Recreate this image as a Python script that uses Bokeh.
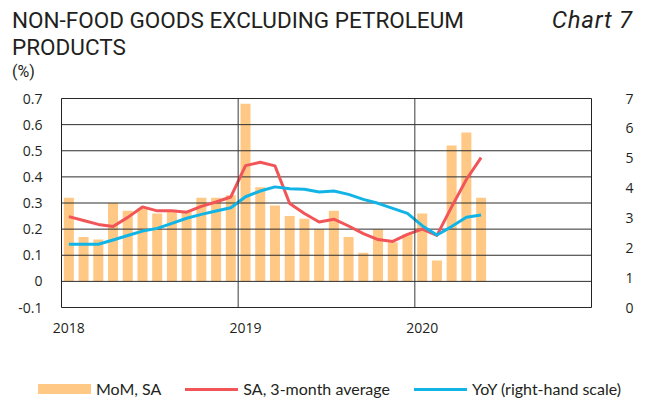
from bokeh.plotting import figure
from bokeh.layouts import column
from bokeh.models import Range1d, LinearAxis, FixedTicker, Span, Div
from bokeh.embed import file_html
from bokeh.resources import INLINE

# ---------------- data ----------------
months = ["2018-01", "2018-02", "2018-03", "2018-04", "2018-05", "2018-06",
          "2018-07", "2018-08", "2018-09", "2018-10", "2018-11", "2018-12",
          "2019-01", "2019-02", "2019-03", "2019-04", "2019-05", "2019-06",
          "2019-07", "2019-08", "2019-09", "2019-10", "2019-11", "2019-12",
          "2020-01", "2020-02", "2020-03", "2020-04", "2020-05"]
mom = [0.32, 0.17, 0.16, 0.30, 0.27, 0.28, 0.26, 0.27, 0.27, 0.32, 0.32, 0.33,
       0.68, 0.36, 0.29, 0.25, 0.24, 0.20, 0.27, 0.17, 0.11, 0.20, 0.15, 0.18,
       0.26, 0.08, 0.52, 0.57, 0.32]
sa3m = [0.248, 0.233, 0.218, 0.210, 0.245, 0.285, 0.270, 0.270, 0.265, 0.287, 0.304, 0.323,
        0.443, 0.456, 0.442, 0.298, 0.260, 0.227, 0.238, 0.212, 0.183, 0.160, 0.153, 0.180,
        0.200, 0.176, 0.285, 0.390, 0.474]
yoy = [2.12, 2.12, 2.12, 2.26, 2.41, 2.56, 2.65, 2.82, 2.99, 3.12, 3.23, 3.34,
       3.71, 3.90, 4.04, 3.98, 3.96, 3.87, 3.90, 3.79, 3.62, 3.49, 3.32, 3.15,
       2.74, 2.43, 2.71, 3.02, 3.10]
year_labels = ["2018", "2019", "2020"]
left_ticks = [-0.1, 0, 0.1, 0.2, 0.3, 0.4, 0.5, 0.6, 0.7]
left_labels = ["-0.1", "0", "0.1", "0.2", "0.3", "0.4", "0.5", "0.6", "0.7"]
right_ticks = [0, 1, 2, 3, 4, 5, 6, 7]
series_names = ["MoM, SA", "SA, 3-month average", "YoY (right-hand scale)"]
title_lines = ["NON-FOOD GOODS EXCLUDING PETROLEUM", "PRODUCTS"]
chart_no = "Chart 7"
unit_label = "(%)"

# ---------------- style ----------------
BAR = "#FFC985"
RED = "#F25558"
BLUE = "#12B4E6"
TXT = "#231F20"
GRID = "#2E2E2E"
TICK_FONT = "Open Sans"
W = 646
HEAD_H, MAIN_H, FOOT_H = 88, 285, 30

x = [i + 0.5 for i in range(len(months))]
year_pos = [months.index(y + "-01") + 0.5 for y in year_labels]
year_bounds = [months.index(y + "-01") for y in year_labels[1:]]

# ---------------- header (title texts) ----------------
def span(text, left=None, right=None, top=0, size=22.5, style="normal", extra=""):
    side = f"left:{left}px;" if left is not None else f"right:{right}px;"
    return (f'<div style="position:absolute;{side}top:{top}px;font-size:{size}px;'
            f'line-height:1;white-space:nowrap;font-style:{style};{extra}">{text}</div>')

head_html = (f'<div style="position:relative;width:{W}px;height:{HEAD_H}px;'
             f'font-family:Roboto;color:{TXT};">'
             + span(title_lines[0], left=12, top=9)
             + span(title_lines[1], left=12, top=36)
             + span(chart_no, right=13, top=8, size=24, style="italic",
                    extra="letter-spacing:0.8px;")
             + span(unit_label, left=12, top=63.5, size=16)
             + '</div>')
head = Div(text=head_html, width=W, height=HEAD_H, margin=(0, 0, 0, 0))

# ---------------- main chart ----------------
p = figure(frame_width=530, frame_height=209, output_backend="svg",
           toolbar_location=None, title=None,
           x_range=Range1d(0, 36), y_range=Range1d(-0.1, 0.7),
           min_border_left=61, min_border_right=55,
           min_border_top=10, min_border_bottom=MAIN_H - 10 - 209)
p.extra_y_ranges = {"yoy": Range1d(0, 7)}
p.outline_line_color = "#222222"
p.outline_line_width = 1
p.xgrid.visible = False
p.ygrid.visible = False

xa = p.xaxis[0]
xa.ticker = FixedTicker(ticks=year_pos)
xa.major_label_overrides = {pos: lab for pos, lab in zip(year_pos, year_labels)}
ya = p.yaxis[0]
ya.ticker = FixedTicker(ticks=left_ticks)
ya.major_label_overrides = {t: l for t, l in zip(left_ticks, left_labels)}
ra = LinearAxis(y_range_name="yoy", ticker=FixedTicker(ticks=right_ticks))
p.add_layout(ra, "right")
for ax in (xa, ya, ra):
    ax.axis_line_color = None
    ax.major_tick_line_color = None
    ax.minor_tick_line_color = None
    ax.major_tick_out = 0
    ax.major_tick_in = 0
    ax.major_label_text_font = TICK_FONT
    ax.major_label_text_font_size = "14px"
    ax.major_label_text_color = TXT
xa.major_label_standoff = 15
ya.major_label_standoff = 19
ra.major_label_standoff = 34

p.vbar(x=x, top=mom, bottom=0, width=0.68, fill_color=BAR, line_color=None)
p.segment(x0=[0] * len(left_ticks), x1=[36] * len(left_ticks),
          y0=left_ticks, y1=left_ticks, line_color=GRID, line_width=1)
for b in year_bounds:
    p.add_layout(Span(location=b, dimension="height", line_color="#3A3A3A",
                      line_width=1, level="glyph"))
p.line(x=x, y=sa3m, line_color=RED, line_width=3, line_join="round")
p.line(x=x, y=yoy, y_range_name="yoy", line_color=BLUE, line_width=3,
       line_join="round")

# ---------------- footer (legend) ----------------
swatches = [(BAR, 10), (RED, 3), (BLUE, 3)]
items = ""
for i, (name, (col, hgt)) in enumerate(zip(series_names, swatches)):
    ml = 0 if i == 0 else 24
    items += (f'<span style="display:inline-block;width:53px;height:{hgt}px;'
              f'background:{col};margin:0 5px 0 {ml}px;"></span>'
              f'<span>{name}</span>')
foot_html = (f'<div style="position:relative;width:{W}px;height:{FOOT_H}px;'
             f'font-family:Lato;font-size:16px;color:{TXT};">'
             f'<div style="position:absolute;left:38px;top:6px;display:flex;'
             f'align-items:center;white-space:nowrap;line-height:20px;">'
             + items + '</div></div>')
foot = Div(text=foot_html, width=W, height=FOOT_H, margin=(0, 0, 0, 0))

layout = column(head, p, foot, spacing=0)
open("out.html", "w").write(file_html(layout, INLINE))
